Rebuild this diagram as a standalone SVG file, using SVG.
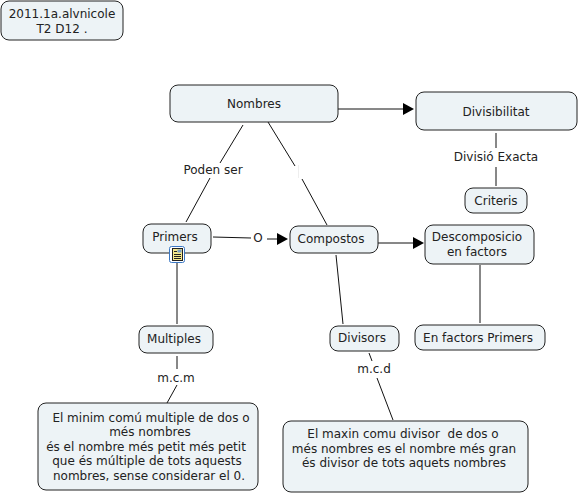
<svg xmlns="http://www.w3.org/2000/svg" width="578" height="495" viewBox="0 0 578 495">
<style>
.n{fill:#edf3f6;stroke:#222;stroke-width:1}
text{font-family:"DejaVu Sans",Verdana,sans-serif;font-size:12px;fill:#222;text-anchor:middle}
.c{stroke:#111;stroke-width:1;fill:none}
.h{fill:#000;stroke:none}
</style>
<rect width="578" height="495" fill="#fff"/>
<g id="connectors">
<path class="c" d="M243 125L220 163M210 178L186 222"/>
<path class="c" d="M268 122L295 166M302 179L327 225"/>
<path class="c" d="M298.500 165V178" style="stroke:#eee"/>
<path class="c" d="M338 109H404"/><path class="h" d="M414 109L403 103V115Z"/>
<path class="c" d="M496 133V148M496 167V186"/>
<path class="c" d="M213 237L251 238M267 239H279"/><path class="h" d="M288 239L277 233V245Z"/>
<path class="c" d="M378 243H414"/><path class="h" d="M424 243L413 237V249Z"/>
<path class="c" d="M177 263L177 324"/>
<path class="c" d="M480 265V323"/>
<path class="c" d="M336 255L343 324"/>
<path class="c" d="M177 356V369M177 385L167 403"/>
<path class="c" d="M369 353L372 361M377 378L393 420"/>
</g>
<g id="n0"><rect class="n" x="1" y="1" width="122" height="39" rx="8"/><text x="62" y="18">2011.1a.alvnicole</text><text x="62" y="33">T2 D12 .</text></g>
<g id="n1"><rect class="n" x="170" y="85" width="168" height="37" rx="8"/><text x="254" y="108">Nombres</text></g>
<g id="n2"><rect class="n" x="416" y="92" width="161" height="38" rx="8"/><text x="496" y="116">Divisibilitat</text></g>
<g id="n3"><rect class="n" x="465" y="188" width="62" height="25" rx="8"/><text x="496" y="205">Criteris</text></g>
<g id="n4"><rect class="n" x="425" y="225" width="109" height="39" rx="8"/><text x="477" y="241">Descomposicio</text><text x="477" y="256">en factors</text></g>
<g id="n5"><rect class="n" x="143" y="224" width="68" height="29" rx="8"/><text x="175" y="241">Primers</text>
<rect x="169.500" y="246.500" width="15" height="16" rx="2" fill="#fff" stroke="#3b78c4"/><rect x="172.500" y="248.500" width="10" height="12" fill="#f6e88a" stroke="#222"/><path d="M174 251.500h3M174 254.500h7M174 256.500h7M174 258.500h7" stroke="#222"/><rect x="177.500" y="249.500" width="4" height="3" fill="#7aa0c8"/></g>
<g id="n6"><rect class="n" x="290" y="226" width="88" height="27" rx="8"/><text x="331" y="243">Compostos</text></g>
<g id="n7"><rect class="n" x="139" y="326" width="74" height="27" rx="8"/><text x="174" y="343">Multiples</text></g>
<g id="n8"><rect class="n" x="330" y="326" width="69" height="25" rx="8"/><text x="362" y="342">Divisors</text></g>
<g id="n9"><rect class="n" x="415" y="325" width="130" height="25" rx="8"/><text x="478" y="342">En factors Primers</text></g>
<g id="n10"><rect class="n" x="38" y="403" width="220" height="87" rx="8"/><text x="151" y="422">El minim comú multiple de dos o</text><text x="150" y="436">més nombres</text><text x="146" y="451">és el nombre més petit més petit</text><text x="147" y="465">que és múltiple de tots aquests</text><text x="149" y="480">nombres, sense considerar el 0.</text></g>
<g id="n11"><rect class="n" x="283" y="421" width="245" height="71" rx="8"/><text x="403" y="438" xml:space="preserve">El maxin comu divisor  de dos o</text><text x="404" y="453">més nombres es el nombre més gran</text><text x="404" y="467">és divisor de tots aquets nombres</text></g>
<g id="labels"><text x="213" y="174">Poden ser</text><text x="258" y="242">O</text><text x="496" y="161">Divisió Exacta</text><text x="176" y="382">m.c.m</text><text x="374" y="373">m.c.d</text></g>
</svg>
